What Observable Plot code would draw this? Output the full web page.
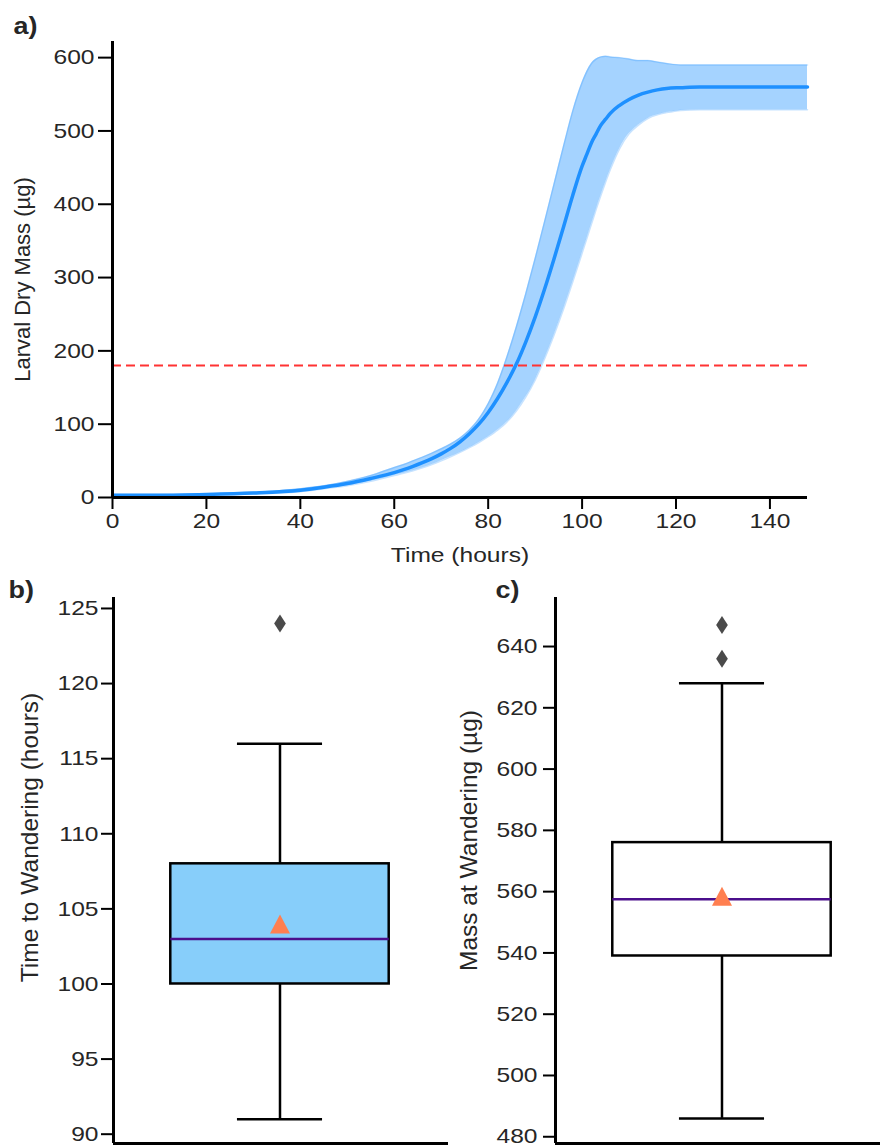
<!DOCTYPE html>
<html><head><meta charset="utf-8">
<script src="https://cdn.jsdelivr.net/npm/d3@7"></script>
<script src="https://cdn.jsdelivr.net/npm/@observablehq/plot@0.6"></script>
<style>
html,body{margin:0;padding:0;background:#fff;}
#wrap{position:relative;width:880px;height:1146px;overflow:hidden;background:#fff;}
#wrap > svg{position:absolute;}
svg [aria-label^="x-axis"] line, svg [aria-label^="y-axis"] line,
svg [aria-label^="x-axis"] path, svg [aria-label^="y-axis"] path{stroke:#000;stroke-width:2px;}
svg [aria-label^="x-axis"] text, svg [aria-label^="y-axis"] text{fill:#262626;}
</style></head>
<body><div id="wrap"></div>
<script>
// ---------- Panel a: larval dry mass over time ----------
const hours    = [0,10,20,30,40,45,50,55,60,62,64,66,68,70,72,74,76,78,80,82,84,86,88,90,92,94,96,98,100,101,102,103,104,105,106,108,110,112,114,116,118,121,125,130,140,148];
const massMean = [3,3,4,6,10,14,19,26,34,38,42.5,47.5,53,59.5,67,76,87,100,116,135,157,182,212,246,284,325,368,412,452,468,484,496,508,516,524,535,543,549,553,556,558,559,560,560,560,560];
const massLow  = [2,2,3,5,8,12,16,22,30,33,36.5,40.5,45,50,55.5,61.5,68,75,83,92,103,118,137,160,189,221,256,294,333,353,373,393,412,430,447,476,496,508,517,522,525,528,529,529,529,529];
const massHigh = [4,4,5,7,12,16,22,30,41,45,50,55,60.5,66.5,73,81,92,107,128,156,192,233,278,326,376,427,478,527,566,581,592,598,601,602,601,600,598,596,596,594,592,590,590,590,590,590];
const thresholdMass = [180];
const xTicksA = [0,20,40,60,80,100,120,140];
const yTicksA = [0,100,200,300,400,500,600];

// ---------- Panel b: time to wandering ----------
const timeBox      = [91,100,103,108,116];   // lower whisker, Q1, median, Q3, upper whisker
const timeMean     = [104];
const timeOutliers = [124];
const yTicksB      = [90,95,100,105,110,115,120,125];

// ---------- Panel c: mass at wandering ----------
const wMassBox      = [486,539,557.5,576,628];
const wMassMean     = [558.5];
const wMassOutliers = [636,647];
const yTicksC       = [480,500,520,540,560,580,600,620,640];

const FONT = "'Liberation Sans', Arial, Helvetica, sans-serif";
const STRETCH = 1.17;
const wrap = document.getElementById("wrap");

function place(svg, left, top){
  svg.style.left = left + "px";
  svg.style.top = top + "px";
  wrap.appendChild(svg);
  svg.querySelectorAll("text").forEach(t => {
    const tr = t.getAttribute("transform") || "";
    if (tr.includes("rotate")) return;
    const L = t.getComputedTextLength();
    if (L > 0){ t.setAttribute("textLength", (L * STRETCH).toFixed(2)); t.setAttribute("lengthAdjust", "spacingAndGlyphs"); }
  });
}

const rows = hours.map((t, i) => ({t, m: massMean[i], lo: massLow[i], hi: massHigh[i]}));

const panelA = Plot.plot({
  width: 880, height: 570,
  marginLeft: 112, marginRight: 73, marginTop: 41, marginBottom: 73,
  style: {fontFamily: FONT, fontSize: "21px", color: "#262626", background: "transparent"},
  x: {domain: [0, 148], ticks: xTicksA, tickSize: 12, tickPadding: 4, label: null},
  y: {domain: [0, 622], ticks: yTicksA, tickSize: 14, tickPadding: 4, label: null},
  marks: [
    Plot.areaY(rows, {x: "t", y1: "lo", y2: "hi", fill: "#1E90FF", fillOpacity: 0.4, curve: "monotone-x"}),
    Plot.line(rows, {x: "t", y: "lo", stroke: "#1E90FF", strokeOpacity: 0.25, strokeWidth: 1.5, curve: "monotone-x"}),
    Plot.line(rows, {x: "t", y: "hi", stroke: "#1E90FF", strokeOpacity: 0.25, strokeWidth: 1.5, curve: "monotone-x"}),
    Plot.ruleY(thresholdMass, {stroke: "#ff3333", strokeWidth: 2, strokeDasharray: "9,5"}),
    Plot.line(rows, {x: "t", y: "m", stroke: "#1E90FF", strokeWidth: 3.5, curve: "monotone-x"}),
    Plot.ruleX([0], {stroke: "#000", strokeWidth: 3}),
    Plot.ruleY([0], {stroke: "#000", strokeWidth: 3}),
    Plot.text(["Time (hours)"], {text: d => d, frameAnchor: "bottom", textAnchor: "middle", lineAnchor: "top", dy: 50, fontSize: 21, fill: "#262626"}),
    Plot.text(["Larval Dry Mass (µg)"], {text: d => d, frameAnchor: "left", textAnchor: "middle", rotate: -90, dx: -90, dy: 10, fontSize: 22, fill: "#262626"}),
    Plot.text(["a)"], {text: d => d, frameAnchor: "top-left", textAnchor: "start", lineAnchor: "top", dx: -99, dy: -24, fontSize: 23, fontWeight: "bold", fill: "#262626"})
  ]
});
place(panelA, 0, 0);

const thinDiamond = {draw(ctx, size){ const r = Math.sqrt(size / Math.PI), w = r * 0.65; ctx.moveTo(0, -r); ctx.lineTo(w, 0); ctx.lineTo(0, r); ctx.lineTo(-w, 0); ctx.closePath(); }};
const triUp = {draw(ctx, size){ const r = Math.sqrt(size / Math.PI), h = r * 0.95; ctx.moveTo(0, -h); ctx.lineTo(r, h); ctx.lineTo(-r, h); ctx.closePath(); }};

const CX = 0.497, BOXH = 0.326, CAPH = 0.127;

function boxPanel({stats, mean, outliers, domain, ticks, fill, marginLeft, tickPadding, label, labelDx, labelDy, letter, letterDx}){
  const [wLo, q1, med, q3, wHi] = stats;
  return Plot.plot({
    width: marginLeft + 337, height: 576,
    marginLeft, marginRight: 2, marginTop: 27, marginBottom: 3,
    style: {fontFamily: FONT, fontSize: "21px", color: "#262626", background: "transparent"},
    x: {domain: [0, 1], axis: null},
    y: {domain, ticks, tickSize: 12, tickPadding, label: null},
    marks: [
      Plot.ruleX([{lo: wLo, hi: q1}, {lo: q3, hi: wHi}], {x: () => CX, y1: "lo", y2: "hi", stroke: "#000", strokeWidth: 2.5}),
      Plot.ruleY([wLo, wHi], {y: d => d, x1: CX - CAPH, x2: CX + CAPH, stroke: "#000", strokeWidth: 2.5}),
      Plot.rect([{q1, q3}], {x1: CX - BOXH, x2: CX + BOXH, y1: "q1", y2: "q3", fill, stroke: "#000", strokeWidth: 2.5}),
      Plot.ruleY([med], {y: d => d, x1: CX - BOXH, x2: CX + BOXH, stroke: "#4b0f8c", strokeWidth: 2.5}),
      Plot.dot(mean, {x: () => CX, y: d => d, symbol: triUp, r: 10, fill: "#FF7F50", stroke: null}),
      Plot.dot(outliers, {x: () => CX, y: d => d, symbol: thinDiamond, r: 9, fill: "#4a4a4a", stroke: null}),
      Plot.ruleX([0], {stroke: "#000", strokeWidth: 3}),
      Plot.ruleY([domain[0]], {stroke: "#000", strokeWidth: 3}),
      Plot.text([label], {text: d => d, frameAnchor: "left", textAnchor: "middle", rotate: -90, dx: labelDx, dy: labelDy, fontSize: 24.5, fill: "#262626"}),
      Plot.text([letter], {text: d => d, frameAnchor: "top-left", textAnchor: "start", lineAnchor: "top", dx: letterDx, dy: -16, fontSize: 23, fontWeight: "bold", fill: "#262626"})
    ]
  });
}

const panelB = boxPanel({stats: timeBox, mean: timeMean, outliers: timeOutliers, domain: [89.38, 125.73], ticks: yTicksB,
  fill: "#87CEFA", marginLeft: 113, tickPadding: 3, label: "Time to Wandering (hours)", labelDx: -83, labelDy: -33, letter: "b)", letterDx: -105});
place(panelB, 0, 570);

const panelC = boxPanel({stats: wMassBox, mean: wMassMean, outliers: wMassOutliers, domain: [477.8, 656], ticks: yTicksC,
  fill: "#ffffff", marginLeft: 115, tickPadding: 6, label: "Mass at Wandering (µg)", labelDx: -86, labelDy: -30, letter: "c)", letterDx: -60});
place(panelC, 440, 570);
</script>
</body></html>
